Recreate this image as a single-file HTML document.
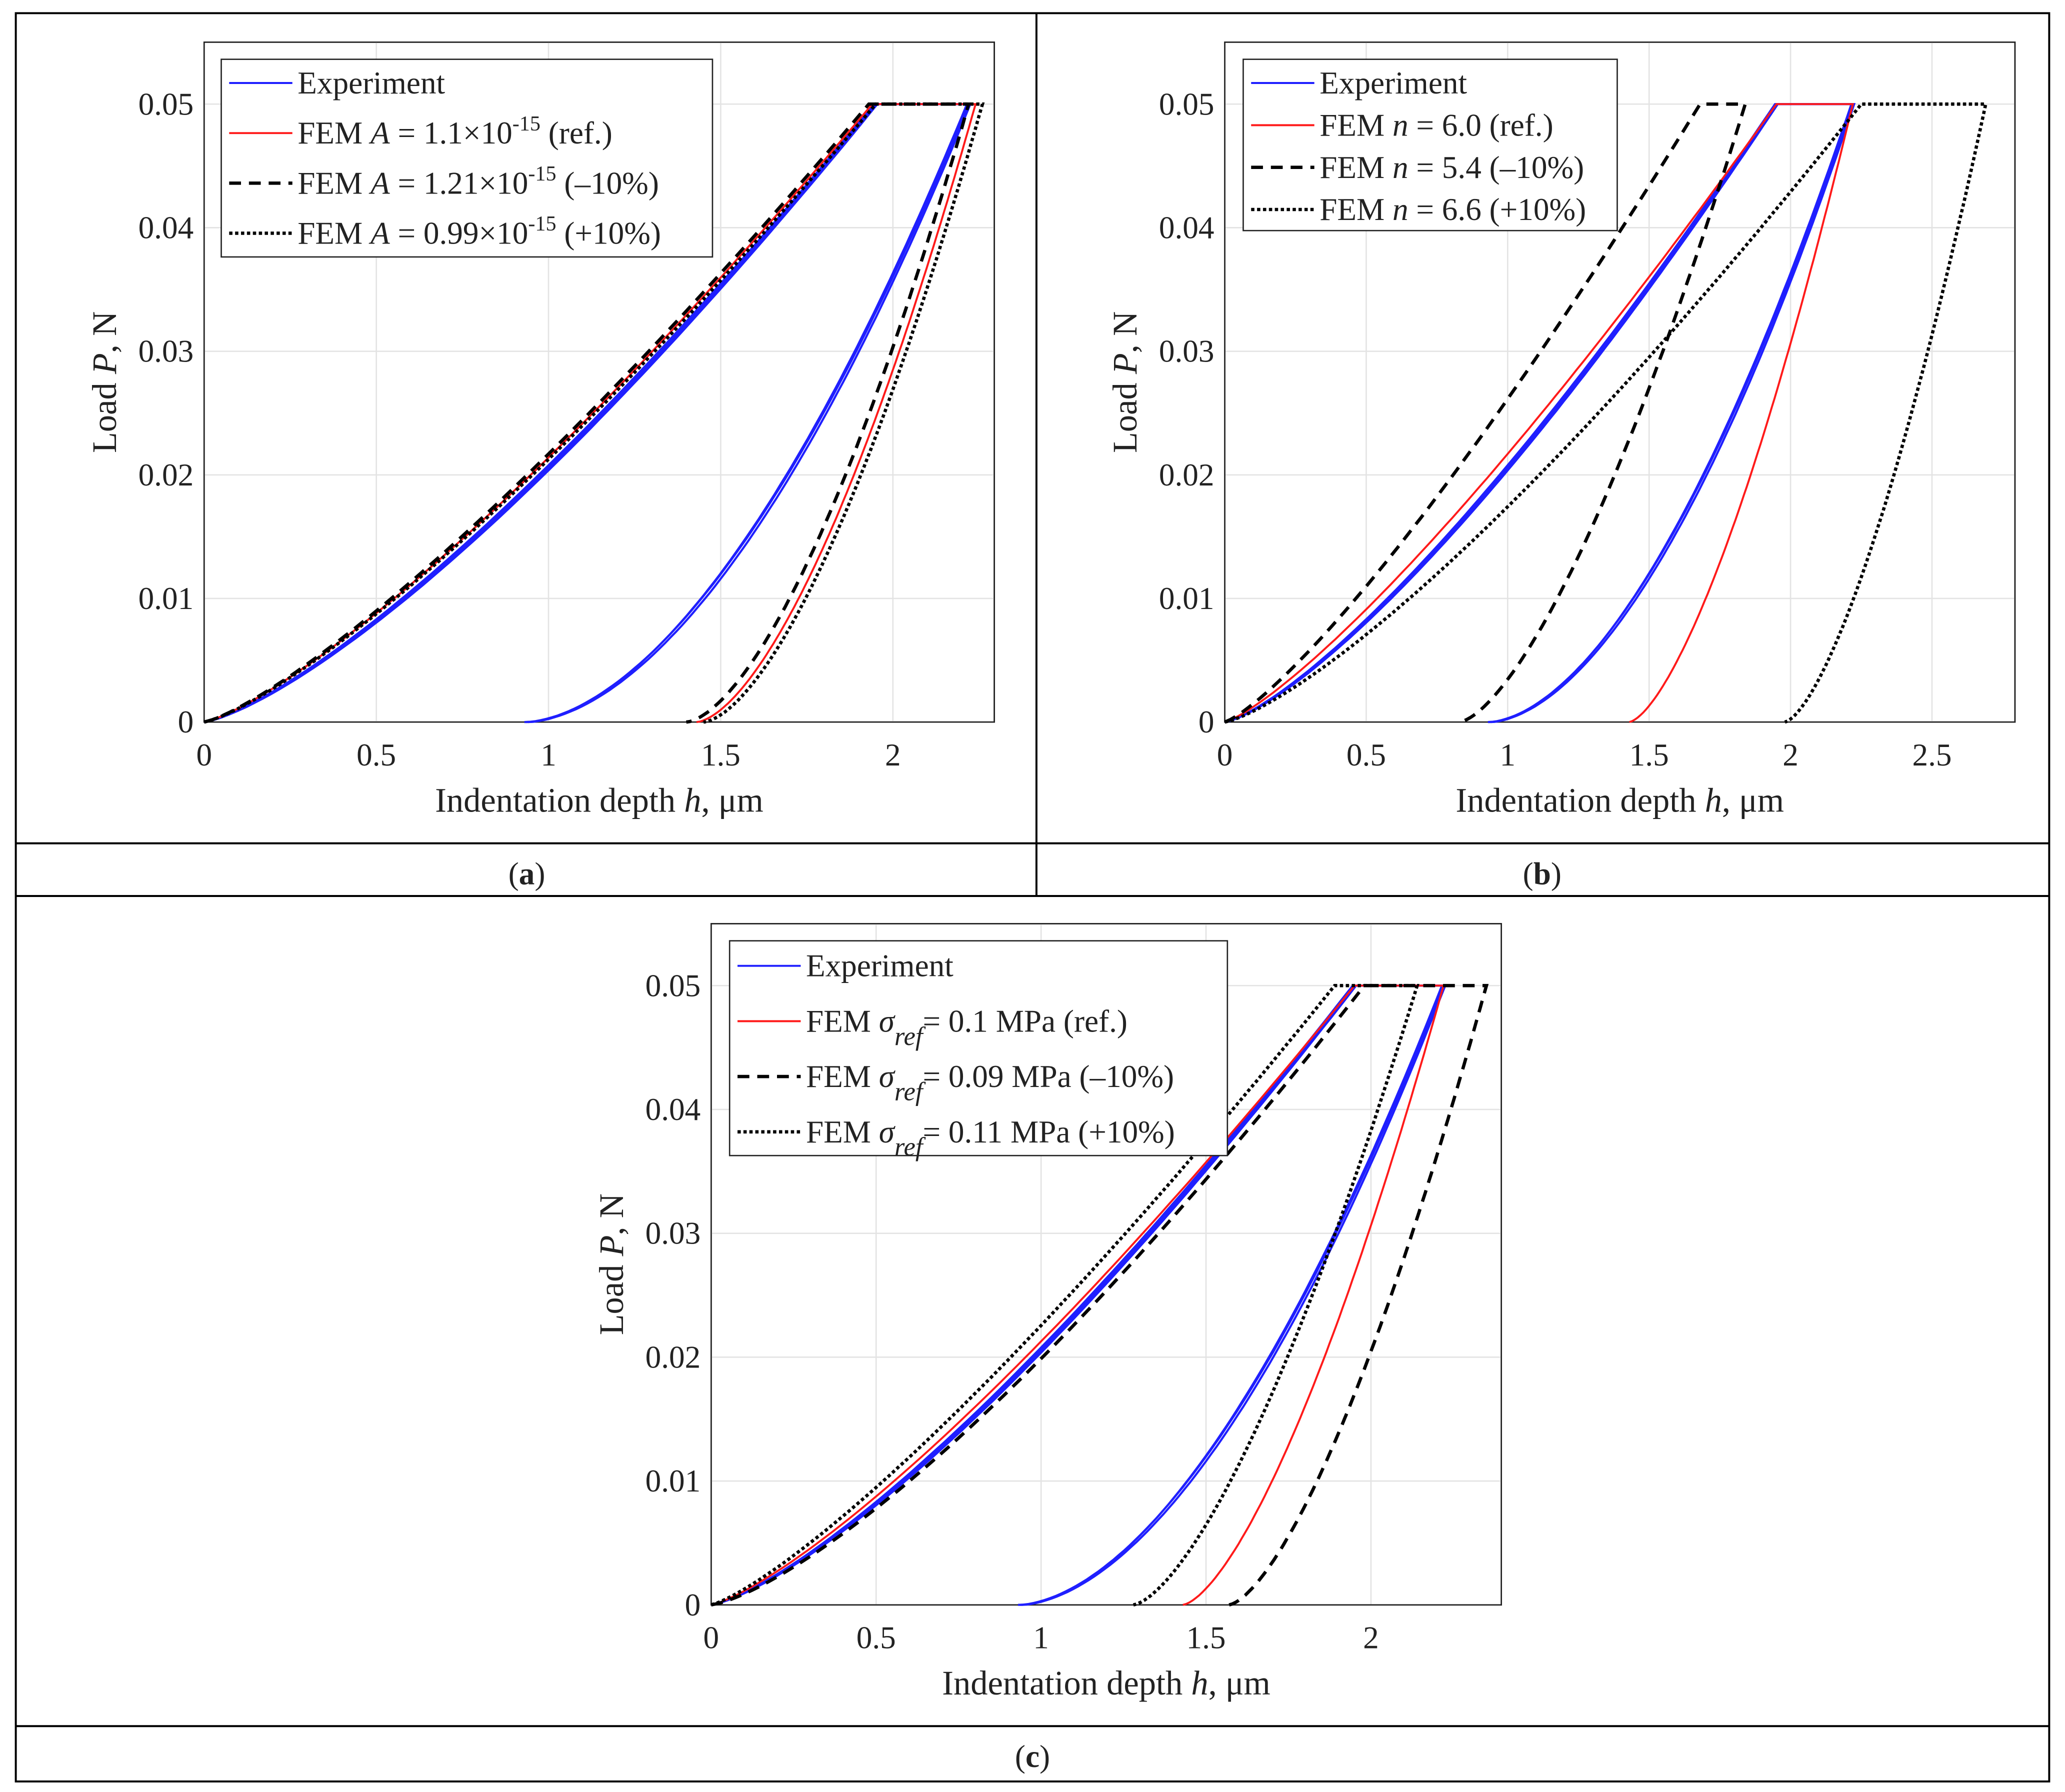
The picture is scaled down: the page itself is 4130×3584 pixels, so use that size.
<!DOCTYPE html>
<html><head><meta charset="utf-8"><style>
html,body{margin:0;padding:0;background:#fff;}
svg{display:block;}
svg text{font-family:"Liberation Serif","Times New Roman",serif;fill:#222;}
</style></head><body>
<svg id="s" width="4130" height="3584" viewBox="0 0 1568 1360" preserveAspectRatio="none" xmlns="http://www.w3.org/2000/svg" font-family="Liberation Serif, Times New Roman, serif">
<rect width="1568" height="1360" fill="#fff"/>
<g stroke="#000" stroke-width="1.5" fill="none">
<rect x="12" y="10" width="1544" height="1342"/>
<line x1="787" y1="10" x2="787" y2="680"/>
<line x1="12" y1="640" x2="1556" y2="640"/>
<line x1="12" y1="680" x2="1556" y2="680"/>
<line x1="12" y1="1310" x2="1556" y2="1310"/>
</g>
<text x="400" y="671" font-size="24" text-anchor="middle">(<tspan font-weight="bold">a</tspan>)</text>
<text x="1171" y="671" font-size="24" text-anchor="middle">(<tspan font-weight="bold">b</tspan>)</text>
<text x="784" y="1341" font-size="24" text-anchor="middle">(<tspan font-weight="bold">c</tspan>)</text>
<g id="g"></g>
</svg>
<script>
const G=document.getElementById('g');let out='';
function panel(o){
 const {x0,y0,w,h,ticksX}=o;
 const ybot=o.ybot, ytop=o.ytop;
 const Y=v=>ybot-(v/0.05)*(ybot-ytop);
 const X=v=>x0+v*o.ppu;
 out+=`<rect x="${x0}" y="${y0}" width="${w}" height="${h}" fill="#fff" stroke="#222" stroke-width="1"/>`;
 for(const t of ticksX){const px=X(t);out+=`<line x1="${px}" y1="${y0}" x2="${px}" y2="${y0+h}" stroke="#e3e3e3"/>`;
  out+=`<text x="${px}" y="${ybot+33}" font-size="24" text-anchor="middle">${t}</text>`;}
 for(let i=0;i<=5;i++){const v=i*0.01,py=Y(v);out+=`<line x1="${x0}" y1="${py}" x2="${x0+w}" y2="${py}" stroke="#e3e3e3"/>`;
  out+=`<text x="${x0-8}" y="${py+8}" font-size="24" text-anchor="end">${i==0?'0':v.toFixed(2)}</text>`;}
 out+=`<rect x="${x0}" y="${y0}" width="${w}" height="${h}" fill="none" stroke="#222" stroke-width="1"/>`;
 out+=`<text x="${x0+w/2}" y="${ybot+68}" font-size="26" text-anchor="middle">Indentation depth <tspan font-style="italic">h</tspan>, μm</text>`;
 const cy=(y0+ybot)/2;
 out+=`<text transform="translate(${x0-67},${cy}) rotate(-90)" font-size="26" text-anchor="middle">Load <tspan font-style="italic">P</tspan>, N</text>`;
 for(const c of o.curves){
  let d='';const N=80;
  for(let i=0;i<=N;i++){const hh=c.hl*i/N;const P=0.05*Math.pow(i/N,c.le||1.3);d+=(i?'L':'M')+X(hh).toFixed(1)+','+Y(P).toFixed(1);}
  d+='L'+X(c.hp).toFixed(1)+','+Y(0.05).toFixed(1);
  for(let i=N;i>=0;i--){const hh=c.hu+(c.hp-c.hu)*i/N;const P=0.05*Math.pow(i/N,c.ue||1.8);d+='L'+X(hh).toFixed(1)+','+Y(P).toFixed(1);}
  const st=c.t=='b'?'stroke="#1f1fff" stroke-width="1.6"':c.t=='r'?'stroke="#ff1a1a" stroke-width="1.5"':c.t=='d'?'stroke="#000" stroke-width="2.5" stroke-dasharray="9,6"':'stroke="#000" stroke-width="2.5" stroke-dasharray="2.5,2"';
  out+=`<path d="${d}" fill="none" ${st}/>`;
 }
 const L=o.leg;
 out+=`<rect x="${L.x}" y="${L.y}" width="${L.w}" height="${L.h}" fill="#fff" stroke="#222" stroke-width="1"/>`;
 L.items.forEach((it,i)=>{const ly=L.y+L.r0+i*L.dy;
  const st=it[0]=='b'?'stroke="#1f1fff" stroke-width="1.5"':it[0]=='r'?'stroke="#ff1a1a" stroke-width="1.5"':it[0]=='d'?'stroke="#000" stroke-width="2.5" stroke-dasharray="9,6"':'stroke="#000" stroke-width="2.5" stroke-dasharray="2.5,2"';
  out+=`<line x1="${L.x+6}" y1="${ly}" x2="${L.x+54}" y2="${ly}" ${st}/>`;
  out+=`<text x="${L.x+58}" y="${ly+8}" font-size="24">${it[1]}</text>`;});
}
const blue=[{t:'b',hl:1.95,hp:2.22,hu:0.93,le:1.33,ue:1.75},{t:'b',hl:1.945,hp:2.215,hu:0.94,le:1.32,ue:1.73},{t:'b',hl:1.955,hp:2.225,hu:0.935,le:1.34,ue:1.77}];
panel({x0:155,y0:32,w:600,h:516,ybot:548,ytop:79,ppu:261.5,ticksX:[0,0.5,1,1.5,2],
 curves:[...blue,{t:'r',hl:1.94,hp:2.24,hu:1.43,le:1.28,ue:1.6},{t:'d',hl:1.93,hp:2.22,hu:1.40,le:1.27,ue:1.6},{t:'o',hl:1.95,hp:2.26,hu:1.45,le:1.28,ue:1.6}],
 leg:{x:168,y:45,w:373,h:150,r0:18,dy:38,items:[['b','Experiment'],['r','FEM <tspan font-style="italic">A</tspan> = 1.1×10<tspan font-size="16" dy="-10">-15</tspan><tspan dy="10"> (ref.)</tspan>'],['d','FEM <tspan font-style="italic">A</tspan> = 1.21×10<tspan font-size="16" dy="-10">-15</tspan><tspan dy="10"> (–10%)</tspan>'],['o','FEM <tspan font-style="italic">A</tspan> = 0.99×10<tspan font-size="16" dy="-10">-15</tspan><tspan dy="10"> (+10%)</tspan>']]}});
panel({x0:930,y0:32,w:600,h:516,ybot:548,ytop:79,ppu:214.8,ticksX:[0,0.5,1,1.5,2,2.5],
 curves:[...blue,{t:'r',hl:1.95,hp:2.22,hu:1.43,le:1.25,ue:1.5},{t:'d',hl:1.68,hp:1.84,hu:0.83,le:1.25,ue:1.5},{t:'o',hl:2.25,hp:2.69,hu:1.98,le:1.3,ue:1.5}],
 leg:{x:944,y:45,w:284,h:130,r0:18,dy:32,items:[['b','Experiment'],['r','FEM <tspan font-style="italic">n</tspan> = 6.0 (ref.)'],['d','FEM <tspan font-style="italic">n</tspan> = 5.4 (–10%)'],['o','FEM <tspan font-style="italic">n</tspan> = 6.6 (+10%)']]}});
panel({x0:540,y0:701,w:600,h:517,ybot:1218,ytop:748,ppu:250.5,ticksX:[0,0.5,1,1.5,2],
 curves:[...blue,{t:'r',hl:1.95,hp:2.22,hu:1.43,le:1.28,ue:1.5},{t:'d',hl:1.98,hp:2.35,hu:1.57,le:1.35,ue:1.5},{t:'o',hl:1.89,hp:2.14,hu:1.28,le:1.25,ue:1.5}],
 leg:{x:554,y:714,w:378,h:163,r0:19,dy:42,items:[['b','Experiment'],['r','FEM <tspan font-style="italic">σ</tspan><tspan font-style="italic" font-size="20" dy="10">ref</tspan><tspan dy="-10">= 0.1 MPa (ref.)</tspan>'],['d','FEM <tspan font-style="italic">σ</tspan><tspan font-style="italic" font-size="20" dy="10">ref</tspan><tspan dy="-10">= 0.09 MPa (–10%)</tspan>'],['o','FEM <tspan font-style="italic">σ</tspan><tspan font-style="italic" font-size="20" dy="10">ref</tspan><tspan dy="-10">= 0.11 MPa (+10%)</tspan>']]}});
G.innerHTML=out;
</script>
</body></html>
